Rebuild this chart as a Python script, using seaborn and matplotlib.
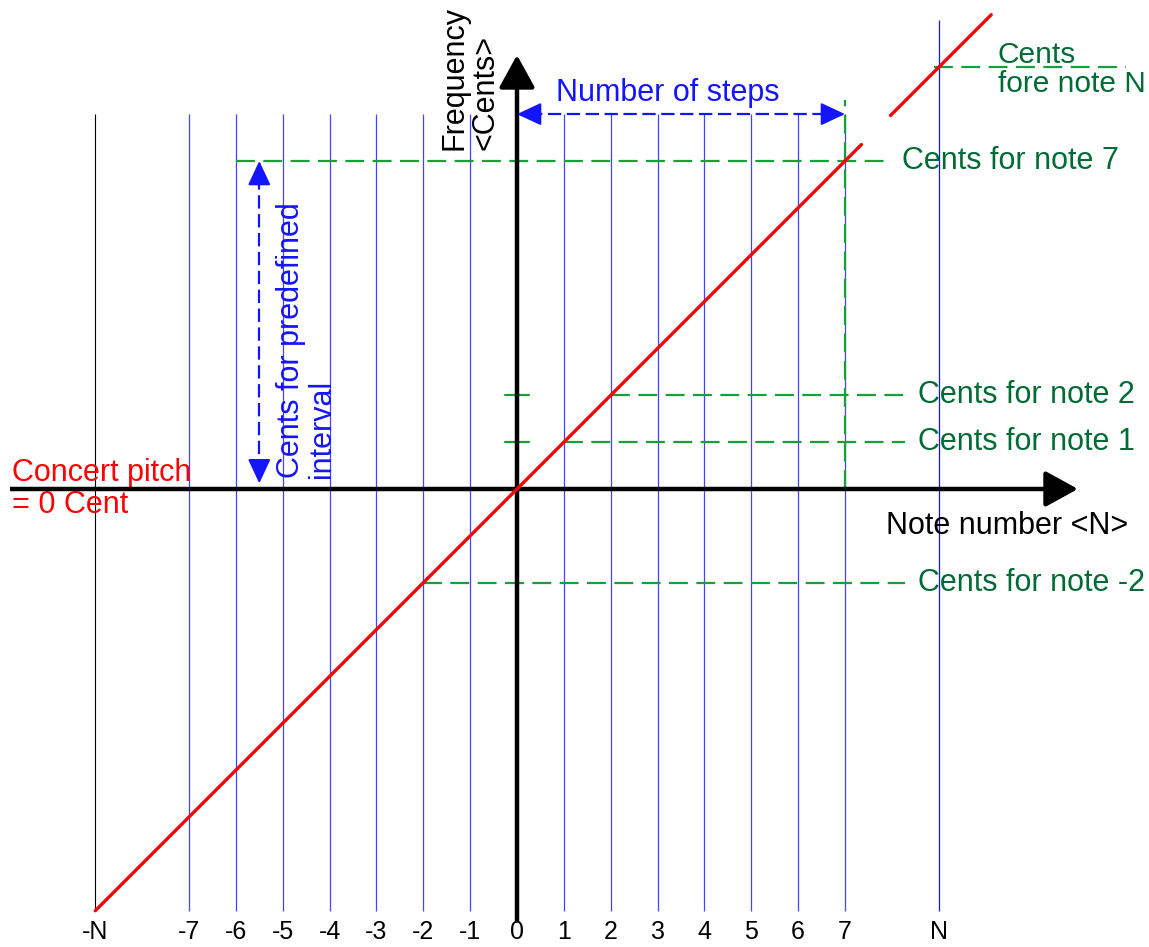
import numpy as np
import pandas as pd
import matplotlib
matplotlib.use("Agg")
import matplotlib.pyplot as plt
import seaborn as sns

# ---------------- data ----------------
N_VALUE = 9                                   # position of the symbolic note "N"
note_numbers = [-7, -6, -5, -4, -3, -2, -1, 0, 1, 2, 3, 4, 5, 6, 7]
tick_positions = [-9, -7, -6, -5, -4, -3, -2, -1, 0, 1, 2, 3, 4, 5, 6, 7, 9]
tick_labels = ["-N", "-7", "-6", "-5", "-4", "-3", "-2", "-1", "0",
               "1", "2", "3", "4", "5", "6", "7", "N"]
cents_per_step = 1.0                          # slope of the pitch line
pitch_segment_a = [-9.0, 7.35]                # note range of first red segment
pitch_segment_b = [7.97, 10.12]               # note range of second red segment
marked_notes = [7, 2, 1, -2]                  # notes with "Cents for note" lines
marked_labels = ["Cents for note 7", "Cents for note 2",
                 "Cents for note 1", "Cents for note -2"]
steps_count = 7                               # "Number of steps"
interval_cents = 7                            # "Cents for predefined interval"

# ---------------- style ----------------
sns.set_theme(style="white")
plt.rcParams["font.family"] = ["Liberation Sans", "DejaVu Sans"]

fig = plt.figure(figsize=(11.49, 9.47), dpi=100)
ax = fig.add_axes([0, 0, 1, 1])
ax.set_xlim(-11.033, 13.487)
ax.set_ylim(-9.774, 10.435)
ax.axis("off")

BLUE = "#1414ff"
GREEN = "#18a038"
GREEN_TXT = "#006b35"
RED = "#ff0000"
FS = 22

# vertical grid lines
ax.vlines(note_numbers, -N_VALUE, 8, colors=BLUE, lw=0.9, alpha=0.8, zorder=1)
ax.vlines([N_VALUE], -N_VALUE, 10, colors=BLUE, lw=0.9, zorder=1)
ax.vlines([-N_VALUE], -N_VALUE, 8, colors="black", lw=0.8, zorder=1)

# green dashed guide lines
gdash = dict(color=GREEN, lw=1.6, dashes=(8.5, 3.8), zorder=3)
for n in marked_notes:
    c = n * cents_per_step
    if n == 7:
        ax.plot([-6, 7.9], [c, c], **gdash)
    else:
        ax.plot([n, 8.27], [c, c], **gdash)
        if n > 0:
            ax.plot([-0.25, 0.25], [c, c], color=GREEN, lw=1.6, zorder=3)
ax.plot([7, 7], [0, 8.3], **gdash)
ax.plot([8.9, 13.0], [N_VALUE * cents_per_step] * 2, **gdash)

# axes with arrows
ax.plot([-10.82, 11.4], [0, 0], color="black", lw=3.2, zorder=4, solid_capstyle="butt")
ax.annotate("", xy=(11.97, 0), xytext=(11.3, 0),
            arrowprops=dict(arrowstyle="-|>,head_length=1.0,head_width=0.55",
                            color="black", lw=3.2, shrinkA=0, shrinkB=0,
                            mutation_scale=20), zorder=4)
ax.plot([0, 0], [-9.25, 8.7], color="black", lw=3.2, zorder=4, solid_capstyle="butt")
ax.annotate("", xy=(0, 9.26), xytext=(0, 8.6),
            arrowprops=dict(arrowstyle="-|>,head_length=1.0,head_width=0.55",
                            color="black", lw=3.2, shrinkA=0, shrinkB=0,
                            mutation_scale=20), zorder=4)

# red pitch line (two segments)
df = pd.DataFrame({
    "note": pitch_segment_a + pitch_segment_b,
    "cents": [v * cents_per_step for v in pitch_segment_a + pitch_segment_b],
    "seg": ["a", "a", "b", "b"],
})
sns.lineplot(data=df, x="note", y="cents", units="seg", estimator=None,
             color=RED, lw=2.4, ax=ax, zorder=5, legend=False)

# blue dashed double arrows
bdash = dict(color=BLUE, lw=1.6, dashes=(6, 2.5), zorder=4)
ax.plot([0.25, steps_count - 0.25], [8, 8], **bdash)
head = dict(arrowstyle="-|>,head_length=0.75,head_width=0.35", color=BLUE,
            lw=1.5, shrinkA=0, shrinkB=0, mutation_scale=20)
ax.annotate("", xy=(0, 8), xytext=(0.4, 8), arrowprops=head, zorder=4)
ax.annotate("", xy=(steps_count, 8), xytext=(steps_count - 0.4, 8), arrowprops=head, zorder=4)

ax.plot([-5.5, -5.5], [0.35, interval_cents - 0.25], **bdash)
ax.annotate("", xy=(-5.5, interval_cents), xytext=(-5.5, interval_cents - 0.4),
            arrowprops=head, zorder=4)
ax.annotate("", xy=(-5.5, 0.12), xytext=(-5.5, 0.52), arrowprops=head, zorder=4)

# texts
ax.text(3.22, 8.45, "Number of steps", color=BLUE, fontsize=FS, ha="center", va="center")
ax.text(-1.0, 7.23, "Frequency\n<Cents>", color="black", fontsize=FS, rotation=90,
        ha="center", va="bottom", multialignment="left", linespacing=1.05)
ax.text(-4.5, 0.23, "Cents for predefined\ninterval", color=BLUE, fontsize=FS,
        rotation=90, ha="center", va="bottom", multialignment="left", linespacing=1.05)
ax.text(-10.78, 0.0, "Concert pitch\n= 0 Cent", color=RED, fontsize=FS,
        ha="left", va="center", linespacing=1.1)
ax.text(7.87, -0.79, "Note number <N>", color="black", fontsize=FS, ha="left", va="center")
label_x = {7: 8.22, 2: 8.56, 1: 8.56, -2: 8.56}
for n, lab in zip(marked_notes, marked_labels):
    ax.text(label_x[n], n * cents_per_step, lab, color=GREEN_TXT, fontsize=FS,
            ha="left", va="center")
ax.text(10.26, N_VALUE * cents_per_step - 0.05, "Cents\nfore note N", color=GREEN_TXT,
        fontsize=FS - 0.5, ha="left", va="center", linespacing=1.05)

for pos, lab in zip(tick_positions, tick_labels):
    ax.text(pos, -9.46, lab, color="black", fontsize=18, ha="center", va="center")

fig.savefig("out.png", dpi=100)
